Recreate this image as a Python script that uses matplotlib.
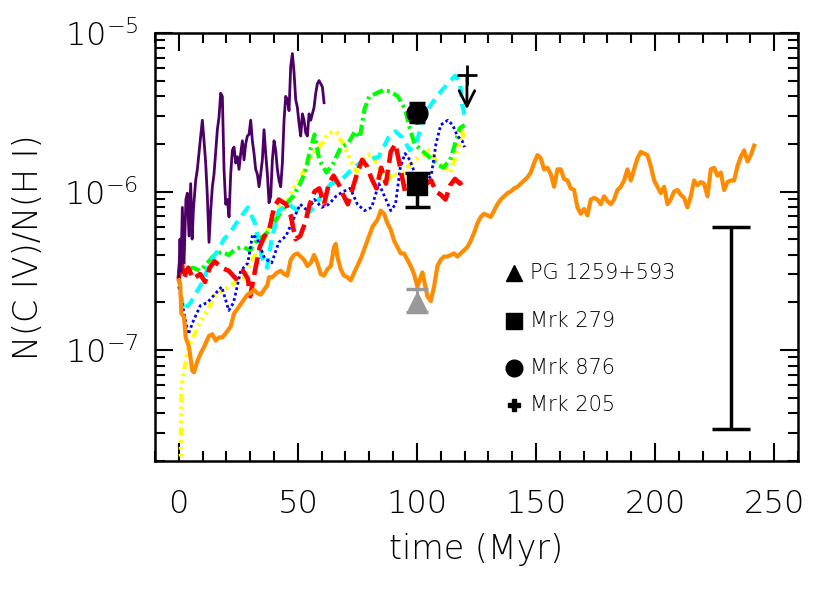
import matplotlib
matplotlib.use('Agg')
import matplotlib.pyplot as plt
import numpy as np
from matplotlib.ticker import MultipleLocator, LogLocator, NullFormatter

plt.rcParams['font.family'] = ['DejaVu Sans']
plt.rcParams['font.weight'] = 'light'
plt.rcParams['axes.labelweight'] = 'light'
plt.rcParams['mathtext.fontset'] = 'custom'
plt.rcParams['mathtext.rm'] = 'DejaVu Sans:light'
plt.rcParams['mathtext.default'] = 'rm'
plt.rcParams['lines.scale_dashes'] = False

#
# DATA: time in Myr, log10 of N(C IV)/N(H I)
#

purple_t = [0.0, 0.5, 0.9, 1.5, 2.2, 3.0, 3.6, 4.3, 5.0, 5.6, 6.2, 7.1, 7.8, 9.2, 9.9, 10.6,
            11.3, 12.0, 12.7, 13.4, 14.1, 14.8, 16.2, 16.9, 17.6, 18.3, 19.0, 19.7, 20.4,
            21.1, 21.8, 22.5, 23.2, 23.9, 24.6, 25.3, 26.0, 26.7, 27.4, 28.1, 28.8, 29.5,
            30.2, 30.9, 31.6, 32.3, 33.0, 33.7, 34.4, 35.1, 35.8, 36.5, 37.2, 37.9, 38.6,
            39.3, 40.0, 40.7, 41.4, 42.1, 42.8, 43.5, 44.2, 44.9, 45.6, 46.3, 47.0, 47.7,
            48.4, 49.1, 49.8, 50.5, 51.2, 51.9, 52.6, 53.3, 54.0, 54.7, 55.4, 56.1, 56.8,
            57.5, 58.2, 58.9, 59.6, 60.3, 61.0]
purple_log = [-6.55, -6.30, -6.50, -6.10, -6.45, -6.05, -6.01, -6.28, -5.95, -6.30, -6.10,
              -5.93, -5.86, -5.65, -5.55, -5.68, -5.82, -6.03, -6.32, -6.12, -5.97, -5.89,
              -5.61, -5.53, -5.38, -5.40, -5.86, -6.08, -6.05, -6.16, -5.89, -5.74, -5.72,
              -5.82, -5.78, -5.86, -5.76, -5.68, -5.80, -5.70, -5.65, -5.64, -5.55, -5.68,
              -5.76, -5.86, -5.89, -5.97, -5.89, -5.80, -5.61, -5.76, -5.89, -6.07, -6.03,
              -5.80, -5.68, -5.74, -5.86, -5.93, -5.97, -5.82, -5.55, -5.40, -5.42, -5.49,
              -5.21, -5.13, -5.25, -5.42, -5.47, -5.57, -5.65, -5.51, -5.55, -5.63, -5.65,
              -5.51, -5.55, -5.51, -5.47, -5.38, -5.32, -5.30, -5.32, -5.34, -5.44]

orange_t = [0.0, 0.6, 1.1, 2.2, 2.9, 4.3, 5.7, 6.4, 7.8, 9.2, 10.6, 12.7, 14.1, 15.5, 16.9,
            18.3, 20.4, 21.8, 23.2, 24.6, 26.0, 27.4, 28.8, 30.2, 31.6, 33.0, 34.4, 35.8,
            37.2, 37.9, 39.3, 41.4, 42.8, 44.2, 45.6, 47.0, 48.4, 49.8, 51.2, 52.6, 54.0,
            55.4, 56.8, 58.2, 59.6, 61.0, 62.4, 63.8, 65.2, 65.9, 66.6, 68.0, 69.4, 70.8,
            72.2, 74.0, 76.5, 79.2, 81.4, 83.4, 84.8, 86.2, 87.6, 89.0, 90.4, 91.8, 93.2,
            94.6, 96.0, 97.4, 98.8, 100.2, 101.6, 102.3, 103.0, 104.4, 105.8, 107.2, 108.6,
            110.0, 111.4, 112.8, 114.2, 115.6, 117.0, 118.4, 119.8, 121.2, 122.6, 124.0,
            125.4, 126.8, 128.2, 129.6, 131.0, 132.4, 133.8, 135.2, 136.6, 138.0, 139.4,
            140.8, 142.2, 143.6, 145.0, 146.4, 147.8, 149.2, 150.6, 152.0, 153.4, 154.8,
            156.2, 157.6, 159.0, 160.4, 161.8, 163.2, 164.6, 166.0, 167.4, 168.8, 170.2,
            171.6, 173.0, 174.4, 175.8, 177.2, 178.6, 180.0, 181.4, 182.8, 184.2, 185.6,
            187.0, 188.4, 189.8, 191.2, 192.6, 194.0, 195.4, 196.8, 198.2, 199.6, 201.0,
            202.4, 203.8, 205.2, 206.6, 208.0, 209.4, 210.8, 212.2, 213.6, 215.0, 216.4,
            217.8, 219.2, 220.6, 222.0, 223.4, 224.8, 226.2, 227.6, 229.0, 230.4, 231.8,
            233.2, 234.6, 236.0, 237.4, 238.8, 240.2, 241.6]
orange_log = [-6.56, -6.58, -6.77, -6.79, -6.92, -6.98, -7.13, -7.14, -7.07, -7.02, -6.98,
              -6.91, -6.90, -6.94, -6.92, -6.92, -6.88, -6.85, -6.77, -6.74, -6.71, -6.68,
              -6.65, -6.64, -6.62, -6.64, -6.65, -6.62, -6.59, -6.54, -6.54, -6.51, -6.50,
              -6.52, -6.53, -6.43, -6.40, -6.39, -6.41, -6.43, -6.47, -6.45, -6.40, -6.45,
              -6.52, -6.53, -6.49, -6.47, -6.35, -6.33, -6.41, -6.49, -6.53, -6.54, -6.56,
              -6.50, -6.42, -6.31, -6.22, -6.18, -6.12, -6.14, -6.20, -6.24, -6.31, -6.35,
              -6.39, -6.39, -6.43, -6.47, -6.52, -6.60, -6.54, -6.51, -6.56, -6.66, -6.69,
              -6.60, -6.47, -6.43, -6.41, -6.41, -6.40, -6.39, -6.41, -6.39, -6.37, -6.35,
              -6.31, -6.26, -6.20, -6.16, -6.14, -6.15, -6.16, -6.12, -6.08, -6.05, -6.03,
              -6.01, -6.00, -5.98, -5.97, -5.95, -5.93, -5.91, -5.88, -5.82, -5.77, -5.79,
              -5.86, -5.85, -5.89, -5.97, -5.86, -5.86, -5.92, -5.93, -5.98, -5.99, -6.10,
              -6.14, -6.11, -6.15, -6.05, -6.04, -6.05, -6.08, -6.03, -6.06, -6.08, -6.05,
              -5.99, -5.97, -5.93, -5.86, -5.93, -5.86, -5.79, -5.75, -5.76, -5.77, -5.84,
              -5.93, -5.97, -6.01, -5.97, -6.08, -6.05, -6.00, -5.99, -6.02, -6.04, -6.10,
              -6.03, -5.93, -5.96, -5.94, -5.95, -6.03, -5.86, -5.85, -5.90, -5.88, -5.99,
              -5.94, -5.93, -5.93, -5.84, -5.78, -5.74, -5.81, -5.77, -5.71]

cyan_t = [0, 2, 5, 8, 10, 13, 16, 19, 22, 25, 29, 32, 35, 37, 39, 42, 46, 50, 54, 57, 60,
          64, 68, 72, 76, 80, 84, 88, 91, 94, 97, 100, 103, 106, 110, 113, 116, 118, 119, 120]
cyan_log = [-6.55, -6.75, -6.70, -6.62, -6.57, -6.45, -6.38, -6.30, -6.25, -6.18, -6.10,
            -6.20, -6.42, -6.48, -6.30, -6.12, -6.08, -6.12, -6.14, -6.10, -6.02, -5.95,
            -5.93, -5.87, -5.82, -5.80, -5.78, -5.66, -5.62, -5.66, -5.74, -5.68, -5.52,
            -5.45, -5.37, -5.32, -5.27, -5.30, -5.45, -5.52]

green_t = [0, 1, 3, 6, 9, 12, 15, 18, 21, 24, 27, 30, 33, 36, 39, 42, 45, 48, 51, 53, 55,
           57, 59, 62, 65, 68, 71, 74, 76, 78, 80, 83, 86, 89, 92, 95, 97, 99, 102, 105,
           108, 111, 114, 116, 118, 120]
green_log = [-6.55, -6.40, -6.50, -6.48, -6.50, -6.45, -6.40, -6.38, -6.40, -6.36, -6.35,
             -6.37, -6.30, -6.28, -6.22, -6.15, -6.08, -6.03, -5.95, -5.88, -5.75, -5.64,
             -5.80, -5.88, -5.82, -5.72, -5.70, -5.62, -5.66, -5.48, -5.40, -5.38, -5.36,
             -5.37, -5.40, -5.48, -5.60, -5.70, -5.74, -5.78, -5.82, -5.85, -5.80, -5.70,
             -5.60, -5.58]

yellow_t = [0.8, 1.0, 2, 4, 6, 9, 12, 15, 18, 21, 24, 27, 30, 33, 36, 39, 42, 45, 48, 51,
            54, 57, 60, 63, 66, 69, 72, 75, 78, 81, 84, 87, 90, 93, 96, 99, 102, 105, 108,
            111, 114, 117, 119, 120]
yellow_log = [-7.75, -7.25, -7.15, -6.98, -6.92, -6.82, -6.75, -6.66, -6.63, -6.60, -6.57,
              -6.55, -6.45, -6.38, -6.30, -6.18, -6.10, -6.08, -5.98, -5.92, -5.82, -5.75,
              -5.70, -5.63, -5.62, -5.70, -5.80, -5.88, -5.78, -5.76, -5.85, -5.95, -5.88,
              -5.92, -5.85, -5.80, -5.78, -5.74, -5.80, -5.84, -5.88, -5.75, -5.62, -5.68]

blue_t = [0, 2, 4, 6, 9, 12, 15, 18, 21, 23, 26, 29, 31, 33, 36, 39, 42, 45, 48, 51, 54,
          57, 60, 63, 66, 69, 72, 75, 78, 81, 84, 87, 89, 91, 93, 95, 97, 100, 103, 106,
          108, 110, 113, 115, 117, 119, 120]
blue_log = [-6.60, -6.75, -6.90, -6.82, -6.72, -6.70, -6.65, -6.60, -6.75, -6.70, -6.50,
            -6.45, -6.27, -6.30, -6.42, -6.45, -6.32, -6.28, -6.18, -6.08, -6.12, -6.05,
            -6.10, -6.08, -6.03, -6.00, -5.98, -6.08, -6.12, -6.10, -5.95, -6.05, -6.12,
            -6.08, -5.85, -5.76, -5.80, -5.92, -5.95, -5.90, -5.70, -5.58, -5.55, -5.58,
            -5.65, -5.68, -5.72]

red_t = [0, 1, 2, 4, 6, 9, 11, 13, 15, 18, 21, 24, 27, 29, 30, 32, 34, 36, 38, 40, 42, 45,
         47, 49, 51, 53, 55, 57, 59, 61, 63, 65, 67, 69, 71, 73, 75, 77, 79, 81, 83, 85,
         87, 89, 91, 93, 95, 97, 99, 101, 104, 106, 108, 110, 112, 114, 116, 118, 120]
red_log = [-6.55, -6.40, -6.55, -6.48, -6.55, -6.52, -6.57, -6.48, -6.44, -6.48, -6.50,
           -6.55, -6.50, -6.55, -6.66, -6.50, -6.35, -6.28, -6.24, -6.10, -6.05, -6.08,
           -6.15, -6.30, -6.28, -6.20, -6.08, -6.00, -5.98, -6.08, -5.95, -5.90, -5.95,
           -6.02, -6.08, -5.98, -5.88, -5.80, -5.84, -5.92, -5.98, -5.85, -5.95, -5.75,
           -5.70, -5.85, -6.00, -5.95, -5.90, -5.96, -5.95, -5.93, -6.00, -6.02, -6.05,
           -5.96, -5.92, -5.95, -5.93]

# observed sightlines: time, ratio, lower, upper
obs_names = ['PG 1259+593', 'Mrk 279', 'Mrk 876', 'Mrk 205']
pg_point = (100, 2.03e-7, 1.74e-7, 2.43e-7)
mrk279_point = (100, 1.10e-6, 8.0e-7, 1.31e-6)
mrk876_point = (100, 3.15e-6, 2.76e-6, 3.6e-6)
mrk205_limit = (121, 5.4e-6, 3.3e-6)

# typical spread bar on the right
spread_t = 232
spread_low = 3.2e-8
spread_high = 6.0e-7

#
# PLOT
#

fig = plt.figure(figsize=(8.3, 5.93), dpi=100)
ax = fig.add_axes([0.1867, 0.2226, 0.7747, 0.7218])

def _ratio(logs):
  return 10.0 ** np.array(logs)

ax.plot(yellow_t, _ratio(yellow_log), color='#FFFF00', lw=3,
        ls=(0, (6, 3, 2, 3, 2, 3, 2, 3)))
ax.plot(green_t, _ratio(green_log), color='#00FF00', lw=3, ls=(0, (8, 3, 2, 3)))
ax.plot(cyan_t, _ratio(cyan_log), color='#00FFFF', lw=3, ls=(0, (8, 5)))
ax.plot(blue_t, _ratio(blue_log), color='#0000FF', lw=2, ls=(0, (2, 2)))
ax.plot(red_t, _ratio(red_log), color='#FF0000', lw=3.3, ls=(0, (13, 5)))
ax.plot(purple_t, _ratio(purple_log), color='#4C0066', lw=2)
ax.plot(orange_t, _ratio(orange_log), color='#FF8C00', lw=3)

# observations
t, v, lo, hi = pg_point
ax.errorbar([t], [v], yerr=[[v - lo], [hi - v]], fmt='^', color='#999999', ms=13,
            elinewidth=2, capsize=8, capthick=2.5)
t, v, lo, hi = mrk279_point
ax.errorbar([t], [v], yerr=[[v - lo], [hi - v]], fmt='s', color='black', ms=15,
            elinewidth=2.5, capsize=9, capthick=2.5)
t, v, lo, hi = mrk876_point
ax.errorbar([t], [v], yerr=[[v - lo], [hi - v]], fmt='o', color='black', ms=15,
            elinewidth=2.5, capsize=6, capthick=2.5)
t, v, lo = mrk205_limit
ax.plot([t], [v], marker='+', color='black', ms=15, mew=2)
ax.annotate('', xy=(t, lo), xytext=(t, v),
            arrowprops=dict(arrowstyle='->', color='black', lw=2, mutation_scale=28,
                            shrinkA=0, shrinkB=0))

# spread bar
ax.errorbar([spread_t], [np.sqrt(spread_low * spread_high)],
            yerr=[[np.sqrt(spread_low * spread_high) - spread_low],
                  [spread_high - np.sqrt(spread_low * spread_high)]],
            fmt='none', ecolor='black', elinewidth=2.5, capsize=14, capthick=2.5)

# key for the observations
key_markers = ['^', 's', 'o', 'P']
key_sizes = [12, 11, 12, 9]
key_y = [0.440, 0.327, 0.217, 0.131]
for ii in range(len(obs_names)):
  ax.plot([0.558], [key_y[ii]], marker=key_markers[ii], ms=key_sizes[ii], color='black',
          transform=ax.transAxes, clip_on=False)
  ax.text(0.584, key_y[ii], obs_names[ii], transform=ax.transAxes, fontsize=15,
          va='center', ha='left')

ax.set_yscale('log')
ax.set_xlim(-10, 260)
ax.set_ylim(2.0e-8, 1.0e-5)

ax.xaxis.set_major_locator(MultipleLocator(50))
ax.xaxis.set_minor_locator(MultipleLocator(10))
ax.yaxis.set_major_locator(LogLocator(base=10, numticks=10))
ax.yaxis.set_minor_locator(LogLocator(base=10, subs=np.arange(2, 10), numticks=20))
ax.yaxis.set_minor_formatter(NullFormatter())

ax.tick_params(which='both', direction='in', top=True, right=True, width=1.5,
               labelsize=23)
ax.tick_params(axis='x', which='major', length=13, pad=20)
ax.tick_params(axis='y', which='major', length=13, pad=12)
ax.tick_params(which='minor', length=7)
for spine in ax.spines.values():
  spine.set_linewidth(1.8)

ax.set_xlabel('time (Myr)', fontsize=24, labelpad=10)
ax.set_ylabel('N(C IV)/N(H I)', fontsize=24, labelpad=14)

plt.savefig('out.png', dpi=100)
